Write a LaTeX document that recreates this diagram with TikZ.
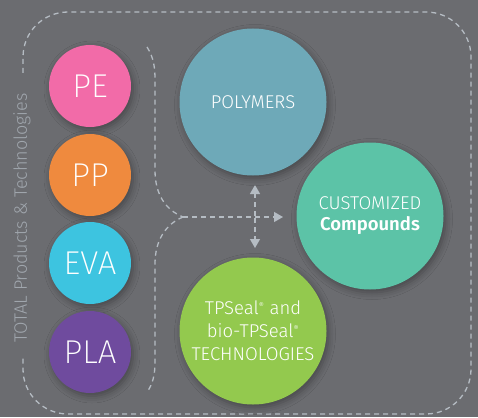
\documentclass[tikz,border=0pt]{standalone}
\usepackage{fontspec}
\setmainfont{Fira Sans}
\newfontfamily\lightfont{Fira Sans}[UprightFont={* Light}, BoldFont={* SemiBold}]
\newfontfamily\thinfont{Fira Sans}[UprightFont={* ExtraLight}]
\usetikzlibrary{arrows.meta,shadows.blur}
\definecolor{bg}{HTML}{6B6C70}
\definecolor{dashc}{HTML}{B5BCC3}
\definecolor{labc}{HTML}{A0A6AD}
\definecolor{cpe}{HTML}{F26BA8}
\definecolor{cpp}{HTML}{EF8A3E}
\definecolor{ceva}{HTML}{3DC4E0}
\definecolor{cpla}{HTML}{6F4B9E}
\definecolor{cpol}{HTML}{6EA9B8}
\definecolor{ccus}{HTML}{5CC3A7}
\definecolor{ctps}{HTML}{93C94E}
\tikzset{
  dline/.style={draw=dashc, line width=1.3pt, dash pattern=on 5pt off 4pt},
  tip/.style={-{Triangle[length=9pt,width=10pt]}},
  ball/.style={circle, inner sep=0pt, text=white, blur shadow={shadow xshift=2pt, shadow yshift=-3pt, shadow blur radius=7pt, shadow opacity=35}},
  small/.style={ball, minimum size=82pt, font=\thinfont\fontsize{33}{36}\selectfont},
  big/.style={ball, minimum size=147pt, align=center, font=\lightfont\fontsize{18.5}{21}\selectfont},
}
\newcommand{\regmark}{\textsuperscript{\fontsize{8}{8}\selectfont ®}}
\begin{document}
\begin{tikzpicture}[x=1pt,y=-1pt]
\fill[bg] (0,0) rectangle (478,417);
\useasboundingbox (0,0) rectangle (478,417);
% outer dashed frame
\draw[dline] (23,73) -- (23,57) arc[start angle=180,end angle=270,radius=45] -- (426,12)
  arc[start angle=-90,end angle=0,radius=45] -- (471,369)
  arc[start angle=0,end angle=90,radius=45] -- (68,414)
  arc[start angle=90,end angle=180,radius=45] -- (23,358);
\node[rotate=90, text=labc, font=\lightfont\fontsize{18}{20}\selectfont, inner sep=0pt] (total) at (22,218) {TOTAL Products \& Technologies};
% inner bracket
\coordinate (j) at (183,217);
\draw[dline] (147,47) .. controls (154,58) and (155,68) .. (155,80) -- (155,170)
  .. controls (155,195) and (166,210) .. (j);
\draw[dline] (j) .. controls (166,224) and (155,240) .. (155,264) -- (155,362)
  .. controls (155,374) and (153,384) .. (147,392);
% arrows
\coordinate (ht) at (283,217);
\coordinate (vt) at (255,185);
\coordinate (vb) at (255,248);
\draw[dline, tip, dashc] (j) -- (ht);
\draw[dline, tip, dashc] (255,216) -- (vt);
\draw[dline, tip, dashc] (255,218) -- (vb);
% small circles
\node[small, fill=cpe] (pe) at (90,86) {PE};
\node[small, fill=cpp] (pp) at (90,175) {PP};
\node[small, fill=ceva] (eva) at (90,263) {EVA};
\node[small, fill=cpla] (pla) at (90,352) {PLA};
% big circles
\node[big, fill=cpol] (pol) at (253,102) {POLYMERS};
\node[big, fill=ccus] (cus) at (370,216) {CUSTOMIZED\\\textbf{Compounds}};
\node[big, fill=ctps, font=\lightfont\fontsize{18.5}{23}\selectfont] (tps) at (253,331) {TPSeal\regmark{} and\\bio-TPSeal\regmark\\TECHNOLOGIES};
\end{tikzpicture}
\end{document}
